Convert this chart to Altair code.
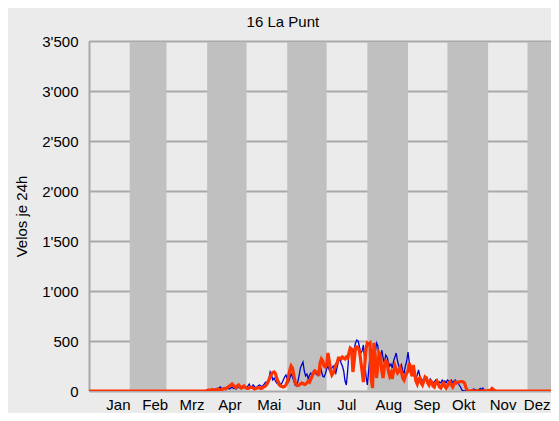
import altair as alt
import pandas as pd

# ---------------- data ----------------
months = ["Jan", "Feb", "Mrz", "Apr", "Mai", "Jun", "Jul", "Aug", "Sep", "Okt", "Nov", "Dez"]
month_start = [0, 31, 59, 90, 120, 151, 181, 212, 243, 273, 304, 334]
month_end = [31, 59, 90, 120, 151, 181, 212, 243, 273, 304, 334, 365]
month_shaded = [False, True, False, True, False, True, False, True, False, True, False, True]
label_pos = [22, 50, 78, 107, 137, 167, 196, 228, 257, 285, 315, 341]

y_ticks = list(range(0, 3501, 250))

n_days = 365
active_start = 90  # first day with counts (values before are 0)

# thin blue series (days 90..309)
blue_active = [
    0, 5, 10, 5, 15, 10, 20, 15, 25, 30,
    40, 25, 15, 30, 20, 35, 25, 20, 30, 40,
    25, 30, 20, 35, 40, 30, 25, 35, 40, 30,
    25, 50, 70, 40, 35, 60, 45, 30, 40, 55,
    60, 50, 45, 60, 80, 90, 70, 120, 190, 160,
    110, 130, 100, 80, 70, 90, 60, 80, 110, 140,
    160, 120, 90, 130, 170, 140, 100, 60, 50, 90,
    150, 230, 260, 290, 200, 150, 170, 120, 160, 180,
    150, 200, 210, 170, 160, 220, 260, 200, 150, 140,
    170, 220, 250, 210, 200, 230, 250, 220, 180, 240,
    300, 320, 280, 250, 200, 100, 60, 200, 380, 400,
    380, 350, 420, 480, 510, 500, 440, 380, 400, 460,
    300, 150, 60, 200, 350, 420, 300, 250, 380, 480,
    450, 300, 260, 410, 330, 280, 360, 340, 290, 250,
    270, 230, 300, 340, 380, 300, 250, 220, 260, 200,
    180, 250, 300, 390, 280, 200, 160, 180, 140, 120,
    160, 210, 150, 120, 110, 90, 130, 110, 80, 100,
    120, 100, 80, 90, 110, 100, 70, 90, 80, 110,
    90, 100, 80, 110, 100, 90, 110, 80, 100, 110,
    90, 85, 60, 40, 10, 5, 0, 5, 0, 0,
    5, 0, 10, 20, 15, 5, 0, 10, 25, 15,
    30, 10, 5, 0, 0, 0, 5, 0, 0, 0,
]

# thick orange series (days 90..309)
orange_active = [
    5, 10, 5, 10, 15, 10, 5, 10, 20, 15,
    10, 15, 20, 25, 20, 30, 40, 50, 60, 70,
    55, 40, 35, 50, 60, 45, 30, 40, 50, 35,
    30, 25, 30, 40, 35, 30, 20, 25, 30, 35,
    30, 25, 30, 40, 45, 60, 80, 110, 140, 170,
    185, 190, 175, 130, 90, 60, 50, 45, 40, 45,
    60, 90, 150, 210, 250, 230, 160, 90, 60, 55,
    60, 70, 80, 75, 65, 70, 80, 100, 90, 120,
    150, 180, 200, 190, 190, 150, 280, 320, 300, 250,
    240, 260, 380, 300, 200, 160, 180, 220, 260, 280,
    330, 330, 320, 340, 330, 320, 340, 330, 380, 430,
    420, 190, 300, 430, 440, 430, 400, 300, 200, 90,
    250, 420, 480, 470, 480, 120, 30, 480, 350, 130,
    250, 380, 360, 200, 130, 250, 300, 290, 200, 150,
    180, 120, 200, 250, 210, 180, 200, 230, 190, 130,
    110, 150, 180, 200, 280, 200, 150, 260, 180, 100,
    70, 120, 130, 80, 60, 100, 140, 130, 80, 60,
    100, 90, 50, 40, 80, 100, 70, 40, 30, 60,
    80, 50, 30, 50, 80, 90, 60, 40, 70, 90,
    80, 90, 90, 95, 95, 90, 80, 40, 5, 0,
    0, 0, 5, 0, 0, 0, 5, 0, 0, 0,
    0, 5, 0, 0, 5, 0, 10, 25, 15, 5,
]


def full_year(active):
    return [0] * active_start + active + [0] * (n_days - active_start - len(active))


blue = full_year(blue_active)
orange = full_year(orange_active)

# ---------------- tables ----------------
bands = pd.DataFrame({"start": month_start, "end": month_end, "shaded": month_shaded})
bands = bands[bands["shaded"]]

df_blue = pd.DataFrame({"day": list(range(n_days)), "value": blue})
df_orange = pd.DataFrame({"day": list(range(n_days)), "value": orange})

W, H = 462, 350
x_scale = alt.Scale(domain=[0, 351.9], nice=False, zero=False)
y_scale = alt.Scale(domain=[0, 3500], nice=False)

label_expr_x = (
    "[" + ",".join("'%s'" % m for m in months) + "][indexof(["
    + ",".join(str(p) for p in label_pos) + "], datum.value)]"
)
label_expr_y = "datum.value % 500 == 0 ? replace(format(datum.value, ','), ',', \"'\") : ''"

x_axis = alt.Axis(
    values=label_pos, labelExpr=label_expr_x, title=None, ticks=False, domain=False,
    grid=False, labelFontSize=15, labelColor="#000000", labelPadding=18,
    labelBaseline="alphabetic", labelOverlap=False, labelFlush=False,
)
y_axis = alt.Axis(
    values=y_ticks, labelExpr=label_expr_y, title="Velos je 24h", ticks=False,
    grid=True, gridColor="#a9a9a9", gridWidth=2, domainColor="#a9a9a9", domainWidth=2,
    labelFontSize=15, labelColor="#000000", labelPadding=11,
    titleFontSize=15, titleFontWeight="normal", titleColor="#000000", titlePadding=12,
    labelOverlap=False,
)

band_layer = alt.Chart(bands).mark_rect(color="#c0c0c0", clip=True).encode(
    x=alt.X("start:Q", scale=x_scale, axis=x_axis),
    x2="end:Q",
    y=alt.Y(datum=0, scale=y_scale, axis=y_axis),
    y2=alt.Y2(datum=3500),
)

top_rule = alt.Chart(bands).mark_rule(color="#a9a9a9", strokeWidth=2, clip=True).encode(
    y=alt.Y(datum=3500, scale=y_scale),
    x=alt.value(0),
    x2=alt.value(W),
)

blue_line = alt.Chart(df_blue).mark_line(color="#0000cc", strokeWidth=1.3, clip=True).encode(
    x=alt.X("day:Q", scale=x_scale),
    y=alt.Y("value:Q", scale=y_scale),
)

orange_line = alt.Chart(df_orange).mark_line(color="#ff3300", strokeWidth=3.2, clip=True).encode(
    x=alt.X("day:Q", scale=x_scale),
    y=alt.Y("value:Q", scale=y_scale),
)

chart = (
    alt.layer(band_layer, top_rule, blue_line, orange_line)
    .properties(
        width=W,
        height=H,
        title=alt.TitleParams(
            "16 La Punt", fontSize=15, fontWeight="normal", color="#000000",
            anchor="middle", frame="bounds", offset=4,
        ),
        autosize=alt.AutoSizeParams(type="none"),
        padding={"left": 81, "top": 33, "right": 0, "bottom": 22},
        background="#ebebeb",
    )
    .configure(font="Liberation Sans")
    .configure_view(stroke=None)
)

chart.save("out.html", embed_options={"renderer": "svg", "actions": False})
